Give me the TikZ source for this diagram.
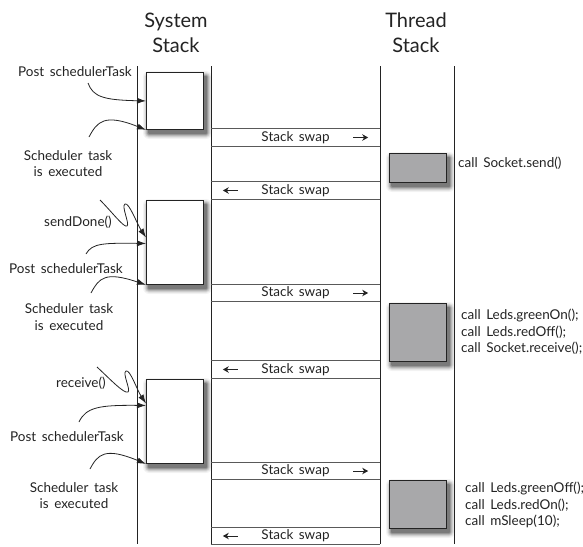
\documentclass[tikz,border=0pt]{standalone}
\usepackage{fontspec}
\setmainfont{Lato}[WordSpace=1.6]
\usetikzlibrary{arrows.meta,calc}
\definecolor{boxgray}{RGB}{168,168,170}
\definecolor{ink}{RGB}{35,35,35}
\definecolor{sh1}{RGB}{244,244,244}
\definecolor{sh2}{RGB}{230,230,230}
\definecolor{sh3}{RGB}{210,210,210}
\definecolor{sh4}{RGB}{185,185,185}
\definecolor{sh5}{RGB}{155,155,155}
\definecolor{sh6}{RGB}{122,122,122}
\newcommand{\softshadowbox}[4]{%
  \fill[sh1, rounded corners=6pt] (#1-3,#2-1) rectangle (#3+9,#4+10);
  \fill[sh2, rounded corners=5pt] (#1-2,#2) rectangle (#3+8,#4+9);
  \fill[sh3, rounded corners=4pt] (#1-1,#2+1) rectangle (#3+7,#4+8);
  \fill[sh4, rounded corners=3pt] (#1,#2+2) rectangle (#3+6,#4+7);
  \fill[sh5, rounded corners=2pt] (#1+1,#2+3) rectangle (#3+5,#4+6);
  \fill[sh6, rounded corners=1pt] (#1+2,#2+4) rectangle (#3+4,#4+5);
}
\begin{document}
\begin{tikzpicture}[x=1pt,y=-1pt,
  lbl/.style={font=\fontsize{13.5}{16.5}\selectfont, inner sep=0pt, text=ink, align=center},
  codetxt/.style={font=\fontsize{13.5}{16.5}\selectfont, inner sep=0pt, text=ink, align=left, anchor=west},
  ttl/.style={font=\fontsize{20}{25}\selectfont, inner sep=0pt, text=ink, align=center},
  life/.style={draw=ink, line width=0.9pt},
  sysbox/.style={draw=ink, line width=0.9pt, fill=white, minimum width=57, inner sep=0pt, anchor=north west},
  thrbox/.style={sysbox, fill=boxgray},
  swapband/.style={minimum width=169, minimum height=17, inner sep=0pt, font=\fontsize{13.5}{16.5}\selectfont, text=ink},
  bandline/.style={draw=black!65, line width=0.9pt},
  swaparrow/.style={draw=ink, line width=1pt, -{Stealth[length=6pt,width=6.5pt]}},
  curvearrow/.style={draw=ink, line width=0.8pt, -{Latex[length=9pt,width=6pt]}},
]
\useasboundingbox (0,0) rectangle (583,546);

% titles
\node[ttl] (tsys) at (176,32.5) {System\\Stack};
\node[ttl] (tthr) at (416,32.5) {Thread\\Stack};

% lifelines
\coordinate (l1t) at (137,66); \coordinate (l1b) at (137,544);
\coordinate (l2t) at (211,66); \coordinate (l2b) at (211,544);
\coordinate (l3t) at (380,66); \coordinate (l3b) at (380,544);
\coordinate (l4t) at (454,66); \coordinate (l4b) at (454,544);

% soft shadows (drawn first, beneath the boxes)
\softshadowbox{146}{72}{203}{129}
\softshadowbox{146}{200}{203}{284}
\softshadowbox{146}{379}{203}{463}
\softshadowbox{389}{153}{446}{182}
\softshadowbox{389}{303}{446}{361}
\softshadowbox{389}{480}{446}{528}

% system stack boxes
\node[sysbox, minimum height=57] (s1) at (146,72) {};
\node[sysbox, minimum height=84] (s2) at (146,200) {};
\node[sysbox, minimum height=84] (s3) at (146,379) {};

% thread stack boxes
\node[thrbox, minimum height=29] (t1) at (389,153) {};
\node[thrbox, minimum height=58] (t2) at (389,303) {};
\node[thrbox, minimum height=48] (t3) at (389,480) {};

\draw[life] (l1t) -- (l1b);
\draw[life] (l2t) -- (l2b);
\draw[life] (l3t) -- (l3b);
\draw[life] (l4t) -- (l4b);

% stack swap bands
\foreach \n/\yc in {w1/137.5, w2/190.5, w3/293, w4/369.5, w5/471, w6/536}{
  \node[swapband] (\n) at (295.5,\yc) {Stack swap};
  \draw[bandline] (\n.north west) -- (\n.north east);
  \draw[bandline] (\n.south west) -- (\n.south east);
}
\foreach \n in {w1,w3,w5}{
  \draw[swaparrow] ([xshift=-27pt]\n.east) -- ([xshift=-12pt]\n.east);
}
\foreach \n in {w2,w4,w6}{
  \draw[swaparrow] ([xshift=27pt]\n.west) -- ([xshift=12pt]\n.west);
}

% thread code texts
\node[codetxt] (c1txt) at (458,163) {call Socket.send()};
\node[codetxt] (c2txt) at (461,332) {call Leds.greenOn();\\call Leds.redOff();\\call Socket.receive();};
\node[codetxt] (c3txt) at (465,505) {call Leds.greenOff();\\call Leds.redOn();\\call mSleep(10);};

% left labels, group 1
\node[lbl] (p1) at (75,72) {Post schedulerTask};
\node[lbl] (e1) at (68,163.5) {Scheduler task\\is executed};
% group 2
\node[lbl] (d2) at (78,222) {sendDone()};
\node[lbl] (p2) at (66,269) {Post schedulerTask};
\node[lbl] (e2) at (69,317) {Scheduler task\\is executed};
% group 3
\node[lbl] (r3) at (81,383) {receive()};
\node[lbl] (p3) at (67,437) {Post schedulerTask};
\node[lbl] (e3) at (74,495.5) {Scheduler task\\is executed};

% curve starts
\coordinate (a1) at (88,83);
\coordinate (a2) at (89,137);
\coordinate (a3) at (100,200);
\coordinate (a4) at (86,254);
\coordinate (a5) at (91,293);
\coordinate (a6) at (97,367);
\coordinate (a7) at (79,422);
\coordinate (a8) at (90,469);

% group 1 arrows
\draw[curvearrow] (a1) .. controls (93,97) and (104,100) .. (s1.west);
\draw[curvearrow] (a2) .. controls (97,122) and (104,113) .. (s1.south west);
% group 2 arrows
\draw[curvearrow] (a3) .. controls (112,212) and (124,228) .. (127,226)
   .. controls (130,224) and (121,206) .. (125,204)
   .. controls (129,202) and (137,224) .. ($(s2.west)+(0,-5)$);
\draw[curvearrow] (a4) .. controls (92,243) and (104,243) .. ($(s2.west)+(0,1)$);
\draw[curvearrow] (a5) .. controls (99,278) and (105,271) .. (s2.south west);
% group 3 arrows
\draw[curvearrow] (a6) .. controls (110,379) and (124,394) .. (128,392)
   .. controls (131,390) and (122,373) .. (126,371)
   .. controls (130,369) and (137,390) .. ($(s3.west)+(0,-18)$);
\draw[curvearrow] (a7) .. controls (86,407) and (100,405) .. ($(s3.west)+(0,-16)$);
\draw[curvearrow] (a8) .. controls (98,454) and (105,447) .. (s3.south west);
\end{tikzpicture}
\end{document}
